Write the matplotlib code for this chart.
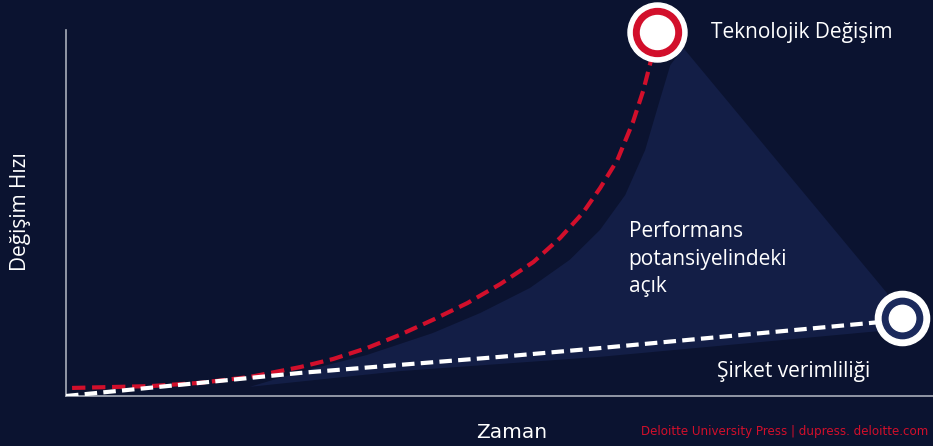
import numpy as np
import matplotlib
matplotlib.use("Agg")
import matplotlib.pyplot as plt

# Teknolojik degisim egrisi (kirmizi)
tech_x = [0.7, 9.7, 15.5, 21.2, 27.0, 30.8, 34.7, 38.5, 42.3, 46.3, 50.1,
          53.9, 57.0, 59.6, 61.6, 63.6, 65.4, 66.6, 67.4, 68.2]
tech_y = [2.2, 2.7, 3.6, 5.2, 7.9, 10.1, 13.1, 16.7, 20.8, 25.4, 30.6,
          36.6, 43.2, 50.0, 56.8, 64.5, 74.9, 83.6, 91.0, 99.4]

# Sirket verimliligi (beyaz)
firm_x = [0.0, 15.5, 27.0, 38.5, 50.1, 61.6, 78.9, 93.9, 96.4]
firm_y = [0.0, 3.6, 6.3, 8.5, 10.7, 13.1, 16.9, 20.2, 21.3]

# Performans acigi bolgesi (kenar noktalari)
gap_x = [21.2, 27.0, 34.7, 42.3, 47.8, 53.5, 58.1, 61.6, 64.5, 66.8, 68.5,
         69.7, 71.2, 94.7, 95.0, 61.6, 38.5]
gap_y = [2.5, 6.6, 11.2, 17.2, 22.7, 29.5, 37.2, 45.4, 54.9, 67.2, 80.9,
         90.4, 95.1, 28.1, 18.0, 10.7, 6.8]

bg = "#0b1330"
red = "#d20f2b"
navy = "#1b2a5c"

plt.rcParams['font.family'] = ['Open Sans', 'DejaVu Sans']

fig = plt.figure(figsize=(9.33, 4.46), dpi=100)
fig.patch.set_facecolor(bg)
ax = fig.add_axes([66 / 933, 50 / 446, 867 / 933, 366 / 446])
ax.set_facecolor(bg)
ax.set_xlim(0, 100)
ax.set_ylim(0, 100)

ax.fill(gap_x, gap_y, color="#131e46", lw=0, zorder=1)

ax.plot(tech_x, tech_y, color=red, lw=3, ls=(0, (3.2, 1.6)), zorder=3)
ax.plot(firm_x[:-1], firm_y[:-1], color="white", lw=3, ls=(0, (3.0, 1.5)), zorder=3)

# end markers
ax.plot(tech_x[-1], tech_y[-1], 'o', ms=42.5, color="white", zorder=5, clip_on=False)
ax.plot(tech_x[-1], tech_y[-1], 'o', ms=34.5, color=red, zorder=6, clip_on=False)
ax.plot(tech_x[-1], tech_y[-1], 'o', ms=24.5, color="white", zorder=7, clip_on=False)
ax.plot(firm_x[-1], firm_y[-1], 'o', ms=39, color="white", zorder=5, clip_on=False)
ax.plot(firm_x[-1], firm_y[-1], 'o', ms=29, color=navy, zorder=6, clip_on=False)
ax.plot(firm_x[-1], firm_y[-1], 'o', ms=19, color="white", zorder=7, clip_on=False)

for s in ['top', 'right']:
    ax.spines[s].set_visible(False)
for s in ['left', 'bottom']:
    ax.spines[s].set_color("#a9adb9")
    ax.spines[s].set_linewidth(1.2)
ax.spines['left'].set_bounds(0, 100)
ax.set_xticks([])
ax.set_yticks([])

ax.text(74.4, 99.4, "Teknolojik Değişim", color="white", fontsize=15,
        va='center', ha='left')
ax.text(64.9, 37.4, "Performans\npotansiyelindeki\naçık", color="white",
        fontsize=15, va='center', ha='left', linespacing=1.4)
ax.text(75.1, 6.6, "Şirket verimliliği", color="white", fontsize=15,
        va='center', ha='left')

fig.text(21 / 933, 234 / 446, "Değişim Hızı", color="white", fontsize=15,
         rotation=90, va='center', ha='center')
fig.text(512 / 933, 13 / 446, "Zaman", color="white", fontsize=14.5,
         va='center', ha='center', family=['Liberation Sans Narrow', 'DejaVu Sans'])
fig.text(928 / 933, 14 / 446, "Deloitte University Press | dupress. deloitte.com",
         color=red, fontsize=8.6, va='center', ha='right',
         family=['Liberation Sans Narrow', 'DejaVu Sans'])

fig.savefig("out.png", dpi=100, facecolor=bg)
